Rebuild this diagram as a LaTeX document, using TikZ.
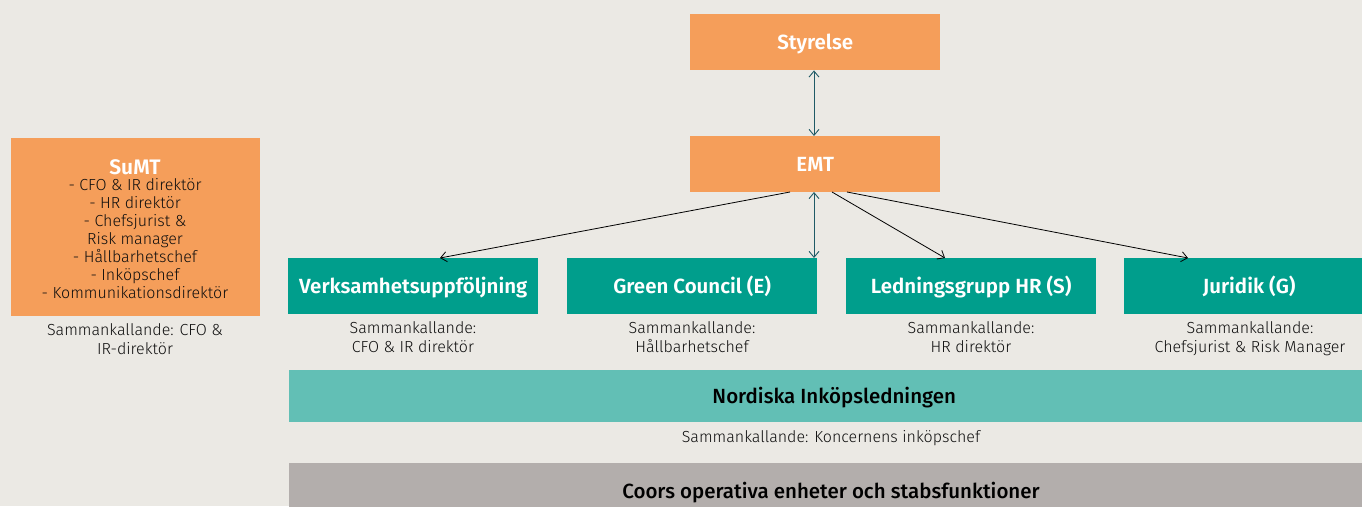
\documentclass[tikz,border=0pt]{standalone}
\usepackage{fontspec}
\setmainfont{Fira Sans}[BoldFont={Fira Sans SemiBold}]
\newfontfamily\medfont{Fira Sans Medium}
\newfontfamily\lightfont{Fira Sans Light}
\usetikzlibrary{arrows.meta}
\definecolor{bg}{HTML}{EBE9E4}
\definecolor{orng}{HTML}{F59E5A}
\definecolor{teal1}{HTML}{009E8C}
\definecolor{teal2}{HTML}{62BFB5}
\definecolor{grey1}{HTML}{B3AEAC}
\definecolor{darkline}{HTML}{1F5A66}
\definecolor{txt}{HTML}{0E0E0E}
\tikzset{
  box/.style={draw=none, inner sep=0pt, minimum width=250pt, minimum height=56pt, anchor=north west, text=white, text height=14pt, text depth=0pt, font=\fontsize{20.5}{22}\selectfont\bfseries},
  orangebox/.style={box, fill=orng},
  tealbox/.style={box, fill=teal1},
  note/.style={text=txt, align=center, font=\fontsize{16}{19}\selectfont\lightfont, inner sep=0pt},
  bar/.style={draw=none, inner sep=0pt, anchor=north west, minimum width=1090pt, text=black, text height=14pt, text depth=0pt, font=\fontsize{20.5}{22}\selectfont\medfont},
  link/.style={-{Straight Barb[length=6pt,width=10pt]}, line width=0.8pt, draw=black},
  dlink/.style={{Straight Barb[length=6pt,width=10pt]}-{Straight Barb[length=6pt,width=10pt]}, line width=0.9pt, draw=darkline},
}
\begin{document}
\begin{tikzpicture}[x=1pt,y=-1pt]
\clip (0,0) rectangle (1362,506);
\fill[bg] (0,0) rectangle (1362,506);
\node[orangebox] (sty) at (690,14) {Styrelse};
\node[orangebox] (emt) at (690,136) {EMT};
\node[tealbox] (verk) at (288,258) {Verksamhetsuppföljning};
\node[tealbox] (green) at (567,258) {Green Council (E)};
\node[tealbox] (led) at (846,258) {Ledningsgrupp HR (S)};
\node[tealbox] (jur) at (1124,258) {Juridik (G)};
\node[draw=none, fill=orng, anchor=north west, minimum width=249pt, minimum height=178pt, inner sep=0pt] (sumt) at (11,138) {};
\node[text=white, font=\fontsize{21}{22}\selectfont\bfseries, inner sep=0pt, text height=14pt, text depth=0pt] (sumtt) at (135,167) {SuMT};
\node[note, anchor=north, font=\fontsize{16}{18}\selectfont\lightfont] (sumtl) at (135,178) {- CFO \& IR direktör\\- HR direktör\\- Chefsjurist \&\\Risk manager\\- Hållbarhetschef\\- Inköpschef\\- Kommunikationsdirektör};
\node[note, anchor=north] (sumtn) at (135,323) {Sammankallande: CFO \&\\IR-direktör};
\node[note, anchor=north] (n1) at (413,321) {Sammankallande:\\CFO \& IR direktör};
\node[note, anchor=north] (n2) at (692,321) {Sammankallande:\\Hållbarhetschef};
\node[note, anchor=north] (n3) at (971,321) {Sammankallande:\\HR direktör};
\node[note, anchor=north] (n4) at (1250,321) {Sammankallande:\\Chefsjurist \& Risk Manager};
\node[bar, fill=teal2, minimum height=52pt] (nord) at (289,370) {Nordiska Inköpsledningen};
\node[note, anchor=north] (nordn) at (831,430) {Sammankallande: Koncernens inköpschef};
\node[bar, fill=grey1, minimum height=56pt] (coors) at (289,463) {};
\node[font=\fontsize{20.5}{22}\selectfont\medfont, inner sep=0pt, text height=14pt, text depth=0pt] (coorst) at (831,491) {Coors operativa enheter och stabsfunktioner};
\coordinate (e1) at (814,192);
\coordinate (s1) at (790,192);
\coordinate (s2) at (832,192);
\coordinate (s3) at (847,192);
\coordinate (t1) at (440,258);
\coordinate (t2) at (945,258);
\coordinate (t3) at (1188,258);
\draw[dlink] (sty.south -| e1) -- (emt.north -| e1);
\draw[dlink] (e1) -- (green.north -| e1);
\draw[link] (s1) -- (t1);
\draw[link] (s2) -- (t2);
\draw[link] (s3) -- (t3);
\end{tikzpicture}
\end{document}
